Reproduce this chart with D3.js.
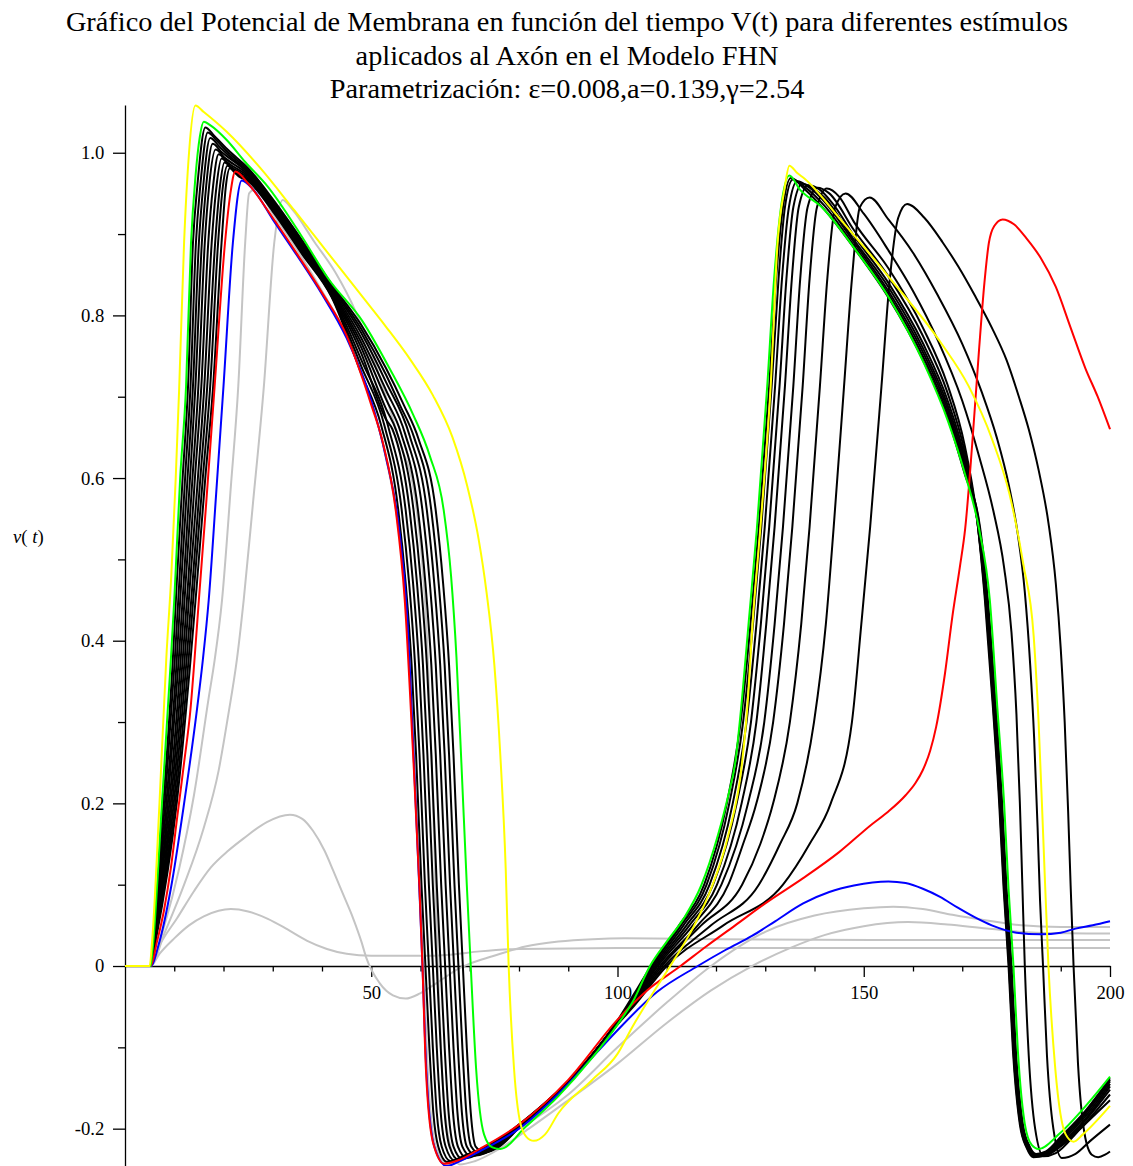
<!DOCTYPE html>
<html>
<head>
<meta charset="utf-8">
<script src="https://cdn.jsdelivr.net/npm/d3@7"></script>
<style>
  body { margin: 0; background: #fff; }
  svg { display: block; }
</style>
</head>
<body>
<script>
// Datos: pares [t, v(t)]
const titulo = [
  "Gráfico del Potencial de Membrana en función del tiempo V(t) para diferentes estímulos",
  "aplicados al Axón en el Modelo FHN",
  "Parametrización: ε=0.008,a=0.139,γ=2.54"
];
const ticksX = [50, 100, 150, 200];
const ticksXMenores = [10, 20, 30, 40, 60, 70, 80, 90, 110, 120, 130, 140, 160, 170, 180, 190];
const ticksY = [-0.2, 0, 0.2, 0.4, 0.6, 0.8, 1.0];
const ticksYMenores = [-0.1, 0.1, 0.3, 0.5, 0.7, 0.9];

const gris1 = [[0,0],[5.2,0],[7,0.015],[10,0.034],[13,0.05],[16,0.061],[19,0.068],[21.5,0.07],[25,0.067],[29,0.058],[33,0.045],[37,0.031],[41,0.021],[45,0.015],[50,0.0125],[60,0.0125],[66,0.014],[72,0.018],[80,0.021],[100,0.022],[140,0.022],[200,0.022]];
const gris2 = [[0,0],[5.2,0],[7,0.025],[10.6,0.059],[14,0.092],[17.4,0.121],[21,0.142],[24.1,0.157],[28.8,0.177],[33.5,0.186],[36,0.181],[38.2,0.166],[40.5,0.142],[42.3,0.117],[44.3,0.088],[46.3,0.059],[48,0.03],[49,0.01],[51.7,-0.021],[54.4,-0.036],[57,-0.04],[59.8,-0.034],[62,-0.026],[64.5,-0.016],[67.8,-0.003],[70,0.003],[74.6,0.012],[81.3,0.024],[88,0.03],[95,0.033],[101.5,0.034],[120,0.033],[160,0.032],[200,0.032]];
const gris3 = [[0,0],[5.2,0],[8,0.04],[12,0.1],[16,0.17],[19,0.24],[21,0.31],[22.7,0.376],[24.1,0.45],[26,0.57],[28.2,0.713],[30.3,0.889],[32,0.942],[34,0.93],[38.5,0.89],[42.7,0.853],[46.8,0.805],[50,0.755],[53,0.7],[56,0.64],[58.5,0.59],[60,0.52],[61.2,0.42],[62,0.3],[62.8,0.15],[63.5,0],[64.3,-0.12],[65.8,-0.215],[68,-0.244],[71,-0.24],[76,-0.225],[82,-0.2],[90,-0.165],[100,-0.12],[110,-0.07],[119,-0.03],[127.3,0],[135,0.022],[142,0.038],[150,0.049],[159,0.054],[167,0.051],[175,0.046],[185,0.041],[200,0.04]];
const gris4 = [[0,0],[5.2,0],[8,0.05],[11,0.12],[14,0.21],[17,0.33],[18.2,0.376],[19.7,0.45],[21.5,0.59],[23,0.713],[24.4,0.889],[25.2,0.95],[26.5,0.955],[30,0.925],[35,0.88],[40,0.83],[45,0.775],[50,0.695],[53,0.625],[55.5,0.54],[57.3,0.43],[58.7,0.26],[59.9,0.08],[60.6,0],[61.4,-0.12],[63,-0.22],[65.5,-0.244],[68,-0.24],[72,-0.226],[80,-0.2],[90,-0.158],[100,-0.1],[110,-0.045],[119,0],[125,0.025],[130,0.042],[140,0.062],[150,0.071],[156,0.073],[162,0.07],[168,0.063],[175,0.056],[182,0.05],[190,0.048],[200,0.048]];

const negro0 = [[0,0],[5.2,0],[5.7,0.03],[7.8,0.2],[9.7,0.376],[10.5,0.47],[11.7,0.6],[12.8,0.713],[13.8,0.889],[14.7,0.96],[16.3,1.031],[18.1,1.021],[21,1.003],[25,0.981],[30,0.943],[36,0.892],[42,0.838],[48,0.788],[53,0.735],[56.6,0.69],[59.6,0.648],[63.1,0.56],[64.6,0.47],[65.8,0.37],[66.7,0.26],[67.8,0.1],[68.6,0],[69.4,-0.1],[70.2,-0.18],[71.2,-0.222],[73,-0.229],[76,-0.222],[80,-0.199],[85,-0.172],[90,-0.143],[95,-0.108],[100,-0.067],[103.5,-0.033],[106.8,0],[112.5,0.05],[117.6,0.1],[122.2,0.2],[125,0.3],[127,0.42],[128.7,0.54],[130.8,0.713],[132.2,0.845],[133.6,0.933],[135.2,0.969],[138,0.955],[142,0.93],[148,0.883],[155,0.822],[162,0.745],[167,0.675],[170.5,0.605],[173.6,0.54],[175.2,0.45],[176.8,0.32],[178.1,0.2],[179,0.095],[180,0],[180.9,-0.105],[182.3,-0.194],[183.7,-0.222],[185,-0.231],[187,-0.228],[190,-0.21],[195,-0.178],[200,-0.138]];
const negro1 = [[0,0],[5.2,0],[5.8,0.03],[8.1,0.2],[10.1,0.376],[11,0.47],[12.2,0.6],[13.3,0.713],[14.4,0.889],[15.3,0.96],[16.8,1.025],[18.6,1.015],[21,1.0],[25,0.979],[30,0.941],[36,0.89],[42,0.836],[48,0.783],[53,0.727],[55.8,0.69],[58.7,0.65],[62.2,0.56],[63.7,0.47],[64.9,0.37],[65.8,0.26],[66.9,0.1],[67.7,0],[68.5,-0.1],[69.3,-0.18],[70.3,-0.222],[72.1,-0.231],[76,-0.221],[80,-0.199],[85,-0.172],[90,-0.143],[95,-0.108],[100,-0.068],[103.5,-0.035],[107,0],[112.9,0.05],[118.1,0.1],[122.7,0.2],[125.5,0.3],[127.5,0.42],[129.2,0.54],[131.3,0.713],[132.7,0.845],[134,0.933],[135.6,0.967],[138,0.958],[142,0.935],[148,0.886],[155,0.826],[162,0.75],[167,0.68],[170.5,0.61],[173.5,0.54],[175.1,0.45],[176.7,0.32],[178,0.2],[178.9,0.095],[179.9,0],[180.8,-0.105],[182.2,-0.194],[183.6,-0.222],[184.9,-0.232],[187,-0.229],[190,-0.212],[195,-0.18],[200,-0.14]];
const negro2 = [[0,0],[5.2,0],[5.8,0.03],[8.4,0.2],[10.5,0.376],[11.4,0.47],[12.7,0.6],[13.8,0.713],[15,0.889],[15.9,0.96],[17.3,1.018],[19.1,1.008],[21,0.997],[25,0.977],[30,0.939],[36,0.888],[42,0.834],[48,0.778],[53,0.718],[57.8,0.652],[61.3,0.56],[62.8,0.47],[64,0.37],[64.9,0.26],[66,0.1],[66.8,0],[67.6,-0.1],[68.4,-0.18],[69.4,-0.222],[71.2,-0.233],[76,-0.22],[80,-0.198],[85,-0.172],[90,-0.143],[95,-0.108],[100,-0.068],[103.5,-0.037],[107.3,0],[113.4,0.05],[118.7,0.1],[123.4,0.2],[126.2,0.3],[128.2,0.42],[129.9,0.54],[132,0.713],[133.4,0.845],[134.8,0.933],[136.5,0.965],[139,0.957],[142,0.94],[148,0.89],[155,0.83],[162,0.755],[167,0.685],[170.5,0.615],[173.4,0.54],[175,0.45],[176.6,0.32],[177.9,0.2],[178.8,0.095],[179.8,0],[180.7,-0.105],[182.1,-0.194],[183.5,-0.222],[184.8,-0.232],[187,-0.23],[190,-0.214],[195,-0.182],[200,-0.142]];
const negro3 = [[0,0],[5.2,0],[5.9,0.03],[8.7,0.2],[10.9,0.376],[11.9,0.47],[13.2,0.6],[14.3,0.713],[15.6,0.889],[16.5,0.96],[17.8,1.011],[19.6,1.001],[25,0.975],[30,0.937],[36,0.886],[42,0.832],[48,0.772],[53,0.708],[56.9,0.654],[60.4,0.56],[61.9,0.47],[63.1,0.37],[64,0.26],[65.1,0.1],[65.9,0],[66.7,-0.1],[67.5,-0.18],[68.5,-0.222],[70.3,-0.234],[73,-0.228],[76,-0.219],[80,-0.198],[85,-0.171],[90,-0.143],[95,-0.108],[100,-0.069],[103.5,-0.039],[107.6,0],[114,0.05],[119.4,0.1],[124.2,0.2],[127.1,0.3],[129.1,0.42],[130.8,0.54],[132.9,0.713],[134.3,0.845],[135.7,0.933],[137.5,0.962],[140,0.955],[142,0.945],[148,0.893],[155,0.835],[162,0.76],[167,0.69],[170.5,0.62],[173.3,0.54],[174.9,0.45],[176.5,0.32],[177.8,0.2],[178.7,0.095],[179.7,0],[180.6,-0.105],[182,-0.194],[183.4,-0.223],[184.7,-0.233],[187,-0.231],[190,-0.216],[195,-0.185],[200,-0.145]];
const negro4 = [[0,0],[5.2,0],[5.9,0.03],[9,0.2],[11.3,0.376],[12.3,0.47],[13.7,0.6],[14.9,0.713],[16.2,0.889],[17.1,0.96],[18.4,1.004],[20.2,0.994],[25,0.973],[30,0.935],[36,0.884],[42,0.83],[48,0.766],[53,0.697],[56,0.656],[59.5,0.56],[61,0.47],[62.2,0.37],[63.1,0.26],[64.2,0.1],[65,0],[65.8,-0.1],[66.6,-0.18],[67.6,-0.222],[69.4,-0.236],[72,-0.23],[76,-0.218],[80,-0.197],[85,-0.171],[90,-0.143],[95,-0.108],[100,-0.069],[103.5,-0.04],[107.9,0],[114.6,0.05],[120.2,0.1],[125.2,0.2],[128.2,0.3],[130.2,0.42],[131.9,0.54],[134,0.713],[135.4,0.845],[136.8,0.933],[138.7,0.96],[141,0.955],[144,0.935],[148,0.898],[155,0.84],[162,0.766],[167,0.696],[170.5,0.625],[173.2,0.54],[174.8,0.45],[176.4,0.32],[177.7,0.2],[178.6,0.095],[179.6,0],[180.5,-0.105],[181.9,-0.195],[183.3,-0.223],[184.6,-0.233],[187,-0.231],[190,-0.218],[195,-0.188],[200,-0.148]];
const negro5 = [[0,0],[5.2,0],[6,0.03],[9.3,0.2],[11.7,0.376],[12.8,0.47],[14.2,0.6],[15.5,0.713],[16.9,0.889],[17.9,0.96],[19,0.998],[20.8,0.988],[25,0.971],[30,0.934],[36,0.882],[42,0.828],[48,0.76],[53,0.685],[55.1,0.658],[58.6,0.56],[60.1,0.47],[61.3,0.37],[62.2,0.26],[63.3,0.1],[64.1,0],[64.9,-0.1],[65.7,-0.18],[66.7,-0.222],[68.5,-0.237],[71,-0.231],[76,-0.217],[80,-0.197],[85,-0.171],[90,-0.142],[95,-0.108],[100,-0.07],[103.5,-0.041],[108.2,0],[115.3,0.05],[121.1,0.1],[126.5,0.2],[129.8,0.3],[131.9,0.42],[133.6,0.54],[135.7,0.713],[137.1,0.845],[138.6,0.933],[140.6,0.957],[143,0.95],[148,0.905],[155,0.848],[162,0.775],[167,0.705],[170.5,0.632],[173.1,0.545],[174.7,0.45],[176.3,0.32],[177.6,0.2],[178.5,0.095],[179.5,0],[180.4,-0.105],[181.8,-0.195],[183.2,-0.224],[184.5,-0.234],[187,-0.232],[190,-0.22],[195,-0.19],[200,-0.152]];
const negro6 = [[0,0],[5.2,0],[6,0.03],[9.6,0.2],[12.1,0.376],[13.2,0.47],[14.8,0.6],[16.1,0.713],[17.6,0.889],[18.6,0.96],[19.6,0.993],[21.4,0.983],[25,0.969],[30,0.932],[36,0.88],[42,0.826],[48,0.753],[53,0.672],[54.3,0.66],[57.8,0.56],[59.3,0.47],[60.5,0.37],[61.4,0.26],[62.5,0.1],[63.3,0],[64.1,-0.1],[64.9,-0.18],[65.9,-0.222],[67.7,-0.238],[70.5,-0.231],[76,-0.216],[80,-0.196],[85,-0.171],[90,-0.142],[95,-0.109],[100,-0.07],[103.5,-0.042],[108.6,0],[116.3,0.05],[122.5,0.1],[125.5,0.15],[128.2,0.2],[131.6,0.3],[133.8,0.42],[135.5,0.54],[137.6,0.713],[139,0.845],[140.5,0.933],[142.5,0.956],[145,0.946],[148,0.915],[155,0.858],[162,0.785],[167,0.715],[170.5,0.64],[173,0.55],[174.6,0.45],[176.2,0.32],[177.5,0.2],[178.4,0.095],[179.4,0],[180.3,-0.105],[181.7,-0.195],[183.1,-0.224],[184.4,-0.235],[187,-0.233],[190,-0.222],[195,-0.193],[200,-0.158]];
const negro7 = [[0,0],[5.2,0],[6.1,0.03],[9.9,0.2],[12.5,0.376],[13.7,0.47],[15.3,0.6],[16.7,0.713],[18.3,0.889],[19.3,0.96],[20.2,0.988],[22,0.978],[25,0.967],[30,0.931],[36,0.878],[42,0.825],[48,0.745],[53.5,0.662],[57,0.56],[58.5,0.47],[59.7,0.37],[60.6,0.26],[61.7,0.1],[62.5,0],[63.3,-0.1],[64.1,-0.18],[65.1,-0.222],[66.9,-0.239],[70,-0.232],[76,-0.215],[80,-0.196],[85,-0.17],[90,-0.142],[95,-0.109],[100,-0.071],[103.5,-0.044],[109,0],[117,0.05],[125.3,0.1],[129,0.15],[131.6,0.2],[135,0.3],[137.3,0.42],[139,0.54],[141.1,0.713],[142.6,0.845],[144.2,0.933],[146.3,0.95],[150,0.925],[155,0.88],[160,0.83],[165,0.77],[170,0.695],[173.5,0.625],[176.3,0.56],[178.5,0.49],[180,0.41],[181,0.31],[181.7,0.2],[182.2,0.1],[182.7,0],[183.5,-0.11],[184.8,-0.2],[186.5,-0.234],[189,-0.23],[194,-0.2],[200,-0.165]];
const negro8 = [[0,0],[5.2,0],[6.1,0.03],[10.2,0.2],[12.9,0.376],[14.1,0.47],[15.8,0.6],[17.3,0.713],[18.9,0.889],[19.9,0.96],[20.8,0.984],[22.6,0.974],[25,0.966],[30,0.93],[36,0.877],[42,0.823],[48,0.737],[52.7,0.664],[56.2,0.56],[57.7,0.47],[58.9,0.37],[59.8,0.26],[60.9,0.1],[61.7,0],[62.5,-0.1],[63.3,-0.18],[64.3,-0.222],[66.1,-0.24],[69.5,-0.232],[76,-0.214],[80,-0.195],[85,-0.17],[90,-0.142],[95,-0.109],[100,-0.071],[103.5,-0.046],[109.5,0],[119,0.05],[128.7,0.1],[133,0.15],[136.5,0.2],[139.9,0.3],[142.3,0.42],[143.9,0.54],[146,0.713],[147.6,0.845],[149.2,0.933],[151.2,0.945],[155,0.918],[160,0.877],[165,0.825],[170,0.765],[174,0.705],[177,0.65],[179.5,0.59],[181.3,0.53],[182.7,0.46],[183.8,0.37],[184.6,0.28],[185.3,0.17],[185.8,0.08],[186.4,0],[187.2,-0.11],[188.5,-0.2],[190.2,-0.236],[193,-0.231],[196,-0.215],[200,-0.195]];
const negro9 = [[0,0],[5.2,0],[6.2,0.03],[10.5,0.2],[13.3,0.376],[14.6,0.47],[16.3,0.6],[17.9,0.713],[19.6,0.889],[20.5,0.96],[21.3,0.981],[23.1,0.971],[25,0.965],[30,0.928],[36,0.875],[42,0.822],[48,0.728],[52,0.665],[55.5,0.56],[57,0.47],[58.2,0.37],[59.1,0.26],[60.2,0.1],[61,0],[61.8,-0.1],[62.6,-0.18],[63.6,-0.222],[65.4,-0.241],[69,-0.233],[76,-0.213],[80,-0.195],[85,-0.17],[90,-0.142],[95,-0.11],[100,-0.072],[103.5,-0.048],[110,0],[121.5,0.05],[133.6,0.1],[139,0.15],[143.3,0.2],[147.6,0.3],[149.5,0.42],[151.3,0.54],[153.6,0.713],[155.3,0.845],[157,0.92],[158.8,0.937],[162.3,0.92],[166,0.89],[169.2,0.86],[172.5,0.825],[176,0.785],[179,0.745],[181.5,0.7],[183.5,0.66],[185.5,0.61],[187.5,0.545],[189,0.47],[190,0.39],[190.8,0.3],[191.5,0.19],[192,0.1],[192.6,0],[193.5,-0.12],[194.8,-0.205],[196.3,-0.232],[197.6,-0.235],[199,-0.232],[200,-0.228]];

const azul = [[0,0],[5.2,0],[7,0.03],[9.3,0.095],[12,0.2],[14.5,0.31],[15.8,0.376],[17,0.45],[18.5,0.58],[20,0.713],[21.9,0.889],[23.7,0.966],[26,0.955],[30,0.918],[35,0.873],[40,0.826],[45,0.772],[50,0.695],[53,0.625],[55.5,0.545],[57.3,0.43],[58.6,0.26],[59.8,0.09],[60.4,0],[61.2,-0.13],[62.8,-0.222],[65.3,-0.246],[68,-0.24],[72,-0.228],[80,-0.2],[90,-0.145],[96,-0.105],[100,-0.079],[108,-0.032],[116.3,0],[122,0.02],[127.3,0.037],[132,0.055],[137.7,0.077],[143,0.091],[148,0.099],[155,0.104],[158.5,0.102],[162,0.095],[165.5,0.085],[169,0.072],[172.5,0.06],[176,0.05],[181,0.041],[186,0.039],[190,0.041],[193,0.046],[196.5,0.05],[200,0.055]];
const rojo = [[0,0],[5.2,0],[6.5,0.03],[7.9,0.068],[9.3,0.12],[10.6,0.183],[12,0.25],[13.3,0.316],[14.1,0.376],[15,0.45],[16.5,0.57],[18.2,0.713],[20.3,0.889],[21.4,0.95],[22.4,0.977],[25,0.962],[30,0.92],[35,0.875],[40,0.828],[45,0.775],[47.5,0.735],[50,0.69],[52.3,0.645],[55,0.559],[56.8,0.45],[58.4,0.272],[59.8,0.095],[60.4,0],[61.1,-0.127],[62.5,-0.216],[64.8,-0.243],[68,-0.238],[72,-0.225],[80,-0.195],[90,-0.14],[100,-0.066],[106,-0.03],[112.8,0],[118,0.024],[123.9,0.05],[130,0.077],[137.7,0.108],[145,0.14],[151.6,0.174],[155,0.19],[158.5,0.21],[160.5,0.225],[162,0.241],[163.5,0.265],[164.7,0.294],[166.5,0.36],[168,0.43],[169.5,0.49],[170.6,0.538],[172,0.64],[173.4,0.757],[174.5,0.84],[175.4,0.889],[176.5,0.91],[178.2,0.918],[180.5,0.912],[183,0.895],[186,0.87],[189,0.835],[192,0.785],[195,0.735],[197.5,0.7],[200,0.66]];
const verde = [[0,0],[5.2,0],[5.6,0.02],[7.5,0.2],[9.3,0.376],[10,0.45],[11.2,0.6],[12.4,0.713],[13.4,0.889],[14.3,0.97],[15.2,1.02],[16,1.038],[17.5,1.033],[20.6,1.016],[24.5,0.988],[28.9,0.959],[35.8,0.898],[41.3,0.845],[48.2,0.793],[53.7,0.735],[58.5,0.678],[61.9,0.627],[64.7,0.561],[66.2,0.48],[67.3,0.38],[68.3,0.25],[69.4,0.1],[70.2,0],[71.3,-0.127],[72.9,-0.207],[74.6,-0.223],[76.2,-0.225],[81.3,-0.198],[88,-0.16],[94.7,-0.114],[100,-0.072],[103,-0.045],[106.6,0],[110,0.03],[113.5,0.059],[117,0.099],[120.4,0.161],[122.5,0.21],[123.9,0.25],[125.3,0.33],[126.6,0.42],[128.3,0.538],[130.4,0.713],[131.8,0.845],[133.2,0.933],[134.9,0.972],[137,0.955],[141.5,0.933],[148.4,0.88],[155.4,0.819],[162.3,0.74],[167.1,0.67],[170.6,0.604],[173.4,0.538],[175.6,0.45],[177.1,0.32],[178.5,0.2],[179.4,0.095],[180.4,0],[181.3,-0.105],[182.7,-0.194],[184.1,-0.22],[185.5,-0.225],[189.6,-0.207],[194.5,-0.176],[200,-0.136]];
const amarillo = [[0,0],[5,0],[5.5,0.03],[7,0.2],[8.4,0.38],[9.4,0.48],[10.3,0.6],[11,0.71],[12,0.89],[13,1.0],[14.3,1.058],[16,1.05],[20.6,1.026],[27.5,0.981],[34.4,0.929],[41.3,0.876],[48.2,0.823],[53,0.786],[58,0.745],[62.5,0.702],[66.5,0.65],[69.5,0.59],[71.8,0.525],[73.4,0.46],[75,0.37],[76.2,0.26],[77.3,0.12],[77.9,0],[79,-0.127],[80.3,-0.194],[81.5,-0.21],[83,-0.215],[85.3,-0.207],[88,-0.181],[94.7,-0.141],[100,-0.108],[103.1,-0.074],[107,-0.035],[110.7,0],[115.6,0.05],[119,0.095],[122.5,0.161],[125.3,0.25],[126.5,0.33],[127.3,0.41],[129,0.538],[131.1,0.713],[132.5,0.889],[133.9,0.955],[134.9,0.984],[136.5,0.975],[138,0.968],[145,0.92],[155.4,0.845],[165.7,0.766],[171.3,0.713],[176.1,0.647],[179.6,0.58],[182.4,0.494],[184.5,0.406],[185.5,0.3],[186.5,0.15],[187.5,0],[188.9,-0.127],[191,-0.207],[192.6,-0.216],[194.5,-0.207],[200,-0.172]];

const series = [
  { datos: gris1, color: "#c4c4c4" },
  { datos: gris2, color: "#c4c4c4" },
  { datos: gris3, color: "#c4c4c4" },
  { datos: gris4, color: "#c4c4c4" },
  { datos: negro9, color: "#000000" },
  { datos: negro8, color: "#000000" },
  { datos: negro7, color: "#000000" },
  { datos: negro6, color: "#000000" },
  { datos: negro5, color: "#000000" },
  { datos: negro4, color: "#000000" },
  { datos: negro3, color: "#000000" },
  { datos: negro2, color: "#000000" },
  { datos: negro1, color: "#000000" },
  { datos: negro0, color: "#000000" },
  { datos: azul, color: "#0000ff" },
  { datos: rojo, color: "#ff0000" },
  { datos: verde, color: "#00ff00" },
  { datos: amarillo, color: "#ffff00" }
];

const width = 1133, height = 1166;
const fuente = "'Liberation Serif', 'Times New Roman', serif";

const svg = d3.select("body").append("svg")
  .attr("width", width)
  .attr("height", height)
  .style("font-family", fuente);

const x = d3.scaleLinear().domain([0, 200]).range([125, 1110]);
const y = d3.scaleLinear().domain([-0.2459, 1.0587]).range([1166, 105]);

// titulo
svg.append("g")
  .selectAll("text")
  .data(titulo)
  .enter()
  .append("text")
  .attr("x", 567)
  .attr("y", (d, i) => 31 + i * 33.5)
  .attr("text-anchor", "middle")
  .attr("font-size", "28.3px")
  .attr("fill", "#000")
  .text(d => d);

// ejes
const ejeX = svg.append("g")
  .attr("transform", `translate(0,${y(0)})`)
  .call(d3.axisBottom(x).tickValues(ticksX).tickSize(11).tickSizeOuter(0).tickPadding(9));
ejeX.selectAll("text").attr("font-size", "18.7px").attr("font-family", fuente).attr("fill", "#000");

svg.append("g")
  .attr("transform", `translate(0,${y(0)})`)
  .call(d3.axisBottom(x).tickValues(ticksXMenores).tickSize(5.5).tickSizeOuter(0).tickFormat(""))
  .call(g => g.select(".domain").remove());

const ejeY = svg.append("g")
  .attr("transform", `translate(${x(0)},0)`)
  .call(d3.axisLeft(y).tickValues(ticksY).tickSize(12).tickSizeOuter(0).tickPadding(8.7)
    .tickFormat(d => d === 0 ? "0" : d.toFixed(1)));
ejeY.selectAll("text").attr("font-size", "18.7px").attr("font-family", fuente).attr("fill", "#000");

svg.append("g")
  .attr("transform", `translate(${x(0)},0)`)
  .call(d3.axisLeft(y).tickValues(ticksYMenores).tickSize(7).tickSizeOuter(0).tickFormat(""))
  .call(g => g.select(".domain").remove());

svg.selectAll(".domain, .tick line").attr("stroke", "#000").attr("stroke-width", 1.3);

// etiqueta del eje y
const etiqueta = svg.append("text")
  .attr("x", 13)
  .attr("y", 543)
  .attr("font-size", "18.7px")
  .attr("fill", "#000");
etiqueta.append("tspan").attr("font-style", "italic").text("v");
etiqueta.append("tspan").text("( ");
etiqueta.append("tspan").attr("font-style", "italic").text("t");
etiqueta.append("tspan").text(")");

// curvas
const linea = d3.line()
  .x(d => x(d[0]))
  .y(d => y(d[1]))
  .curve(d3.curveMonotoneX);

svg.append("g")
  .attr("fill", "none")
  .attr("stroke-width", 2)
  .attr("stroke-linejoin", "round")
  .selectAll("path")
  .data(series)
  .enter()
  .append("path")
  .attr("stroke", d => d.color)
  .attr("d", d => linea(d.datos));
</script>
</body>
</html>
